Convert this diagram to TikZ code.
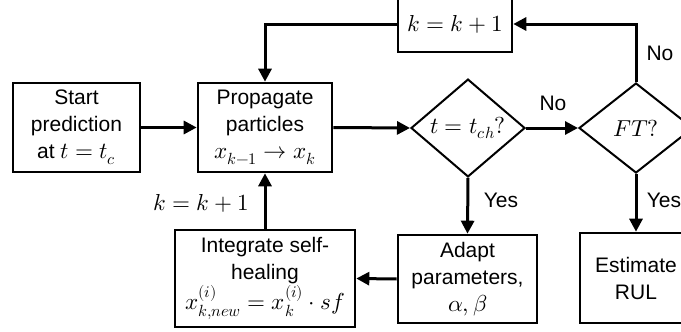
\documentclass[tikz,border=0pt]{standalone}
\usepackage{fontspec}
\usepackage{unicode-math}
\setmainfont{Liberation Sans}
\setmathfont{Latin Modern Math}[Scale=1.1]
\usetikzlibrary{shapes.geometric,arrows.meta}
\begin{document}
\begin{tikzpicture}[x=1pt,y=-1pt,
  every node/.style={font=\fontsize{21}{27}\selectfont},
  box/.style={draw,line width=2.6pt,align=center,inner sep=0pt},
  dia/.style={draw,diamond,line width=2pt,inner sep=0pt,minimum width=114pt,minimum height=90pt},
  arr/.style={line width=3pt,-{Triangle[length=13pt,width=13pt]}},
  lbl/.style={inner sep=0pt}]
\useasboundingbox (0,0) rectangle (681,332);
\node[box,minimum width=127pt,minimum height=89pt] (start) at (76.5,127.5) {Start\\prediction\\at $t=t_c$};
\node[box,minimum width=134pt,minimum height=89pt] (prop) at (265,127.5) {Propagate\\particles\\$x_{k-1}\rightarrow x_k$};
\node[dia] (d1) at (468,128) {$t=t_{ch}?$};
\node[dia] (d2) at (636,128) {$FT?$};
\node[box,minimum width=114pt,minimum height=56pt] (kbox) at (455,24) {$k=k+1$};
\node[box,minimum width=139pt,minimum height=88pt] (adapt) at (467.5,279) {Adapt\\parameters,\\$\alpha,\beta$};
\node[box,minimum width=180pt,minimum height=97pt] (integ) at (265,278.5) {Integrate self-\\healing\\[1pt]$x_{k,new}^{(i)}=x_k^{(i)}\cdot sf$};
\node[box,minimum width=112pt,minimum height=90pt] (est) at (636,278) {Estimate\\RUL};
\coordinate (c1) at (636,24);
\coordinate (c2) at (265,24);
\draw[arr] (start.east) -- (prop.west);
\draw[arr] (prop.east) -- (d1.west);
\draw[arr] (d1.east) -- (d2.west);
\draw[arr] (d1.south) -- (adapt.north);
\draw[arr] (d2.south) -- (est.north);
\draw[arr] (adapt.west) -- (integ.east);
\draw[arr] (integ.north) -- (prop.south);
\draw[arr] (d2.north) -- (c1) -- (kbox.east);
\draw[arr] (kbox.west) -- (c2) -- (prop.north);
\node[lbl] (no1) at (553,103) {No};
\node[lbl] (no2) at (660,53) {No};
\node[lbl] (yes1) at (501,200) {Yes};
\node[lbl] (yes2) at (664,200) {Yes};
\node[lbl] (kl) at (201,203) {$k=k+1$};
\end{tikzpicture}
\end{document}
